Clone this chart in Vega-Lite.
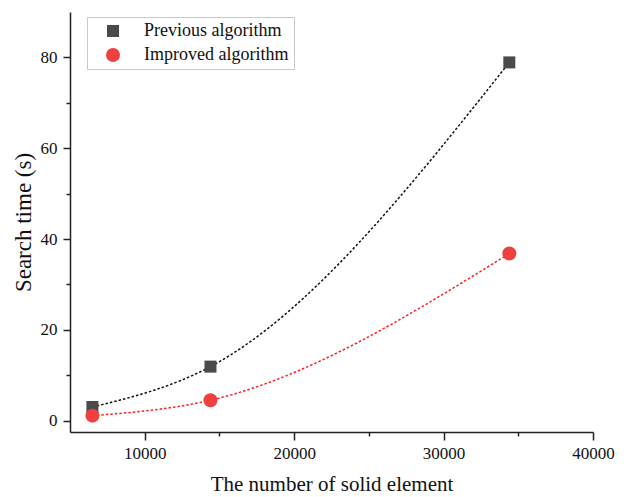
{
  "$schema": "https://vega.github.io/schema/vega-lite/v6.json",
  "width": 523,
  "height": 420,
  "autosize": {"type": "none"},
  "padding": {"left": 70, "top": 12, "right": 31, "bottom": 65},
  "background": "white",
  "config": {
    "view": {"stroke": null},
    "font": "Liberation Serif",
    "legend": {
      "orient": "none",
      "legendX": 17,
      "legendY": 5,
      "title": null,
      "padding": 5,
      "strokeColor": "#c8c8c8",
      "fillColor": "white",
      "labelFont": "Liberation Serif",
      "labelFontSize": 18,
      "labelColor": "#111111",
      "symbolOffset": 12,
      "labelOffset": 22,
      "rowPadding": 6,
      "symbolStrokeWidth": 0
    }
  },
  "data": {
    "values": [
      {"n": 6500, "t": 3.0, "series": "Previous algorithm"},
      {"n": 14400, "t": 11.9, "series": "Previous algorithm"},
      {"n": 34400, "t": 78.9, "series": "Previous algorithm"},
      {"n": 6500, "t": 1.1, "series": "Improved algorithm"},
      {"n": 14400, "t": 4.5, "series": "Improved algorithm"},
      {"n": 34400, "t": 36.8, "series": "Improved algorithm"}
    ]
  },
  "encoding": {
    "x": {
      "field": "n",
      "type": "quantitative",
      "scale": {"domain": [5000, 40000], "nice": false, "zero": false},
      "axis": {
        "title": "The number of solid element",
        "titleFont": "Liberation Serif",
        "titleFontSize": 21,
        "titleFontWeight": "normal",
        "titleColor": "#111111",
        "titlePadding": 12,
        "values": [10000, 15000, 20000, 25000, 30000, 35000, 40000],
        "format": "d",
        "labelExpr": "datum.value % 10000 === 0 ? datum.label : ''",
        "labelFont": "Liberation Serif",
        "labelFontSize": 17,
        "labelColor": "#111111",
        "labelPadding": 5,
        "labelFlush": false,
        "labelOverlap": false,
        "tickSize": {"condition": {"test": "datum.value % 10000 === 0", "value": 8}, "value": 4},
        "tickColor": "#222222",
        "tickWidth": 1.5,
        "domainColor": "#222222",
        "domainWidth": 1.5,
        "grid": false
      }
    },
    "y": {
      "field": "t",
      "type": "quantitative",
      "scale": {"domain": [-2.5, 90], "nice": false, "zero": false},
      "axis": {
        "title": "Search time (s)",
        "titleFont": "Liberation Serif",
        "titleFontSize": 23,
        "titleFontWeight": "normal",
        "titleColor": "#111111",
        "titlePadding": 5,
        "values": [0, 10, 20, 30, 40, 50, 60, 70, 80],
        "labelExpr": "datum.value % 20 === 0 ? datum.label : ''",
        "labelFont": "Liberation Serif",
        "labelFontSize": 17,
        "labelColor": "#111111",
        "labelPadding": 6,
        "labelOverlap": false,
        "tickSize": {"condition": {"test": "datum.value % 20 === 0", "value": 7}, "value": 4},
        "tickColor": "#222222",
        "tickWidth": 1.5,
        "domainColor": "#222222",
        "domainWidth": 1.5,
        "grid": false
      }
    }
  },
  "layer": [
    {
      "mark": {"type": "line", "interpolate": "monotone", "strokeDash": [2.5, 2], "strokeWidth": 1.5},
      "encoding": {
        "stroke": {
          "field": "series",
          "type": "nominal",
          "scale": {"domain": ["Previous algorithm", "Improved algorithm"], "range": ["#111111", "#ff1f1f"]}
        }
      }
    },
    {
      "mark": {"type": "point", "filled": true, "opacity": 1},
      "encoding": {
        "fill": {
          "field": "series",
          "type": "nominal",
          "scale": {"domain": ["Previous algorithm", "Improved algorithm"], "range": ["#4a4a4a", "#ef4040"]}
        },
        "shape": {
          "field": "series",
          "type": "nominal",
          "scale": {"domain": ["Previous algorithm", "Improved algorithm"], "range": ["square", "circle"]}
        },
        "size": {
          "field": "series",
          "type": "nominal",
          "scale": {"domain": ["Previous algorithm", "Improved algorithm"], "range": [144, 196]}
        }
      }
    }
  ]
}
